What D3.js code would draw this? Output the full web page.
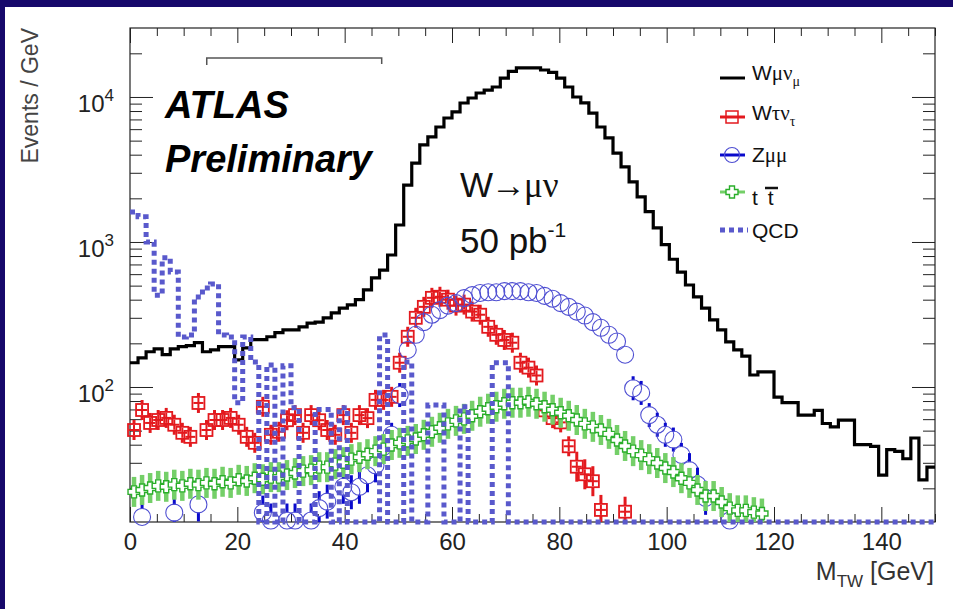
<!DOCTYPE html>
<html>
<head>
<meta charset="utf-8">
<script src="https://cdn.jsdelivr.net/npm/d3@7"></script>
<style>
  body { margin: 0; background: #ffffff; }
  svg { display: block; }
  text { font-family: "Liberation Sans", Arial, sans-serif; }
</style>
</head>
<body>
<script>
// M_TW histogram: 100 bins of 1.5 GeV between 0 and 150 GeV
const binWidth = 1.5;
const binLow = d3.range(100).map(i => i * binWidth);

// W -> mu nu (events / GeV)
const wmunu = [
  147, 159, 175, 183, 167, 183, 190, 193, 202, 175,
  180, 190, 190, 154, 186, 212, 212, 222, 237, 248,
  248, 260, 276, 280, 300, 324, 350, 368, 400, 467,
  565, 640, 813, 1310, 2470, 3500, 4670, 5300, 6210, 7160,
  7890, 9090, 9840, 10650, 11160, 11720, 13500, 15000, 15850, 15850,
  15850, 15350, 14800, 13500, 11720, 10000, 9100, 7750, 6210, 5220,
  4100, 3300, 2600, 2050, 1620, 1250, 960, 760, 620, 505,
  418, 350, 290, 248, 205, 180, 163, 121, 127, 127,
  85, 78, 78, 64, 64, 69, 56, 53, 59, 59,
  40, 40, 39, 24.7, 37, 36, 32, 44.5, 22.9, 28
];

// W -> tau nu
const wtaunu = [
  50.5, 69.4, 56.5, 59.2, 61.2, 54.9, 48.3, 45.3, 77.6, 50.5,
  59.2, 59.2, 61.2, 54.9, 45.3, 41.2, 73, 46.8, 49.1, 59,
  64, 48.3, 64, 59, 50.5, 46.8, 64, 48.3, 64, 61,
  81.5, 81.5, 85.5, 147, 222, 300, 357, 412, 419, 400,
  364, 370, 331, 315, 260, 229, 211, 202, 147, 136,
  120, 69, 61, 57, 39, 28.2, 25, 22.4, 14.2, null,
  null, 13.8, null, null, null, null, null, null, null, null,
  null, null, null, null, null, null, null, null, null, null,
  null, null, null, null, null, null, null, null, null, null,
  null, null, null, null, null, null, null, null, null, null
];

// Z -> mu mu
const zmumu = [
  null, 12.7, null, null, null, 13.6, null, null, 15.5, null,
  null, null, null, null, null, null, 13.6, 12, null, 12,
  12, null, 12, 14.6, 16.2, null, 20.5, 18.8, 20.5, 24.6,
  28.8, 38.6, 46.8, 88, 180, 229, 280, 315, 339, 364,
  379, 410, 430, 445, 450, 450, 458, 458, 458, 450,
  445, 425, 406, 379, 357, 331, 311, 280, 256, 229,
  206, 167, 98, 91, 64, 54.9, 46.8, 43.4, 34, 26.7,
  21.2, 17.2, null, null, 12, null, null, null, null, null,
  null, null, null, null, null, null, null, null, null, null,
  null, null, null, null, null, null, null, null, null, null
];

// t tbar
const ttbar = [
  18.9, 19.5, 20.1, 20.8, 20.5, 21.2, 20.8, 21.5, 21.2, 21.8,
  21.5, 22.2, 21.8, 22.9, 22.5, 23.5, 23.1, 23.9, 23.9, 24.7,
  25.5, 26.3, 26.7, 28, 28, 29.4, 30.3, 31.8, 32.8, 34.4,
  36.1, 37.3, 39.8, 41.2, 42.5, 43.8, 46.8, 49.1, 52.3, 55.7,
  58.4, 60.3, 63.3, 67.5, 70.8, 73.1, 76.6, 77.9, 77.9, 79.1,
  76.6, 73.1, 69.7, 66.4, 63.3, 59.2, 55.7, 53.1, 50.5, 47.5,
  43.1, 39.2, 36.1, 33.9, 31.8, 29.9, 27.6, 25.9, 23.5, 21.8,
  19.5, 17.7, 17.7, 16.1, 14.6, 14.1, 14.1, 13.7, 13.4, null,
  null, null, null, null, null, null, null, null, null, null,
  null, null, null, null, null, null, null, null, null, null
];

// QCD (0 = empty bin)
const qcd = [
  1610, 1490, 1000, 430, 780, 620, 221, 228, 418, 482,
  513, 228, 221, 78, 221, 149, 0, 142, 0, 140,
  72, 0, 0, 70, 70, 0, 72, 0, 0, 0,
  0, 228, 0, 0, 149, 0, 0, 75, 75, 0,
  0, 73, 0, 0, 0, 147, 147, 0, 0, 0,
  0, 0, 0, 0, 0, 0, 0, 0, 0, 0,
  0, 0, 0, 0, 0, 0, 0, 0, 0, 0,
  0, 0, 0, 0, 0, 0, 0, 0, 0, 0,
  0, 0, 0, 0, 0, 0, 0, 0, 0, 0,
  0, 0, 0, 0, 0, 0, 0, 0, 0, 0
];

const xMajor = [0, 20, 40, 60, 80, 100, 120, 140];
const yDecades = [100, 1000, 10000];
const yExponents = ["2", "3", "4"];

const W = 953, H = 609;
const red = "#e3191e", blueC = "#4f4fd2", blueE = "#0a0acc", greenM = "#2aae2a", greenE = "#74cf68", qcdCol = "#5959cc";

const svg = d3.select("body").append("svg").attr("width", W).attr("height", H);
svg.append("rect").attr("width", W).attr("height", H).attr("fill", "#17096b");
svg.append("rect").attr("x", 5).attr("y", 7).attr("width", W - 5).attr("height", H - 7).attr("fill", "#ffffff");

const x = d3.scaleLinear().domain([0, 150]).range([130, 935]);
const y = d3.scaleLog().domain([11.72, 29900]).range([522, 28]);
const yBottom = y.range()[0];

// axes (ROOT style, ticks inside the frame)
const xMinor = d3.range(0, 151, 5).filter(v => v % 20 !== 0);
const yMinor = [];
[10, 100, 1000, 10000].forEach(d => d3.range(2, 10).forEach(k => {
  const v = d * k;
  if (v > y.domain()[0] && v < y.domain()[1]) yMinor.push(v);
}));

function styleAxis(g) {
  g.select(".domain").remove();
  g.selectAll("line").attr("stroke", "#222");
  g.attr("font-family", "Liberation Sans, Arial, sans-serif");
}

const gxB = svg.append("g").attr("transform", "translate(0,522)");
gxB.call(d3.axisBottom(x).tickValues(xMajor).tickSize(-15).tickPadding(11).tickFormat(d3.format("d")))
  .call(styleAxis);
gxB.selectAll("text").attr("font-size", 24).attr("fill", "#222");
gxB.append("g").call(d3.axisBottom(x).tickValues(xMinor).tickSize(-8).tickFormat("")).call(styleAxis);

const gxT = svg.append("g").attr("transform", "translate(0,28)");
gxT.call(d3.axisTop(x).tickValues(xMajor).tickSize(-15).tickFormat("")).call(styleAxis);
gxT.append("g").call(d3.axisTop(x).tickValues(xMinor).tickSize(-8).tickFormat("")).call(styleAxis);

const gyL = svg.append("g").attr("transform", "translate(130,0)");
gyL.call(d3.axisLeft(y).tickValues(yDecades).tickSize(-23).tickFormat("")).call(styleAxis);
gyL.append("g").call(d3.axisLeft(y).tickValues(yMinor).tickSize(-12).tickFormat("")).call(styleAxis);

const gyR = svg.append("g").attr("transform", "translate(935,0)");
gyR.call(d3.axisRight(y).tickValues(yDecades).tickSize(-23).tickFormat("")).call(styleAxis);
gyR.append("g").call(d3.axisRight(y).tickValues(yMinor).tickSize(-12).tickFormat("")).call(styleAxis);

svg.append("rect").attr("x", 130).attr("y", 28).attr("width", 805).attr("height", 494)
  .attr("fill", "none").attr("stroke", "#222").attr("stroke-width", 1.2);

// y tick labels 10^n
yDecades.forEach((d, i) => {
  const t = svg.append("text").attr("x", 114).attr("y", y(d) + 15)
    .attr("text-anchor", "end").attr("font-size", 24).attr("fill", "#222");
  t.append("tspan").text("10");
  t.append("tspan").attr("dy", -11).attr("font-size", 17).text(yExponents[i]);
});

// axis titles
svg.append("text").attr("transform", "translate(38,28) rotate(-90)")
  .attr("text-anchor", "end").attr("font-size", 23).attr("fill", "#444").text("Events / GeV");
const xt = svg.append("text").attr("x", 934).attr("y", 580).attr("text-anchor", "end")
  .attr("font-size", 25).attr("fill", "#333");
xt.append("tspan").text("M");
xt.append("tspan").attr("dy", 7).attr("font-size", 17).text("TW");
xt.append("tspan").attr("dy", -7).text(" [GeV]");

// bracket at the top of the frame
const bracket = [14.3, 46.9], bracketY = 18600;
svg.append("path")
  .attr("d", `M${x(bracket[0])},${y(bracketY) + 7}V${y(bracketY)}H${x(bracket[1])}V${y(bracketY) + 6}`)
  .attr("fill", "none").attr("stroke", "#555").attr("stroke-width", 1.5);

// histogram helper
function histPoints(vals) {
  const pts = [];
  vals.forEach((v, i) => {
    const yy = v > 0 ? y(v) : yBottom;
    pts.push([x(binLow[i]), yy], [x(binLow[i] + binWidth), yy]);
  });
  return pts;
}
const line = d3.line();

// vertical error bar drawn outside the marker only
function errBar(g, cx, cy, gap, len, col, w) {
  g.append("line").attr("x1", cx).attr("x2", cx).attr("y1", cy - gap - len).attr("y2", cy - gap)
    .attr("stroke", col).attr("stroke-width", w);
  if (cy + gap < yBottom) {
    g.append("line").attr("x1", cx).attr("x2", cx).attr("y1", cy + gap).attr("y2", Math.min(cy + gap + len, yBottom))
      .attr("stroke", col).attr("stroke-width", w);
  }
}

// W -> mu nu
svg.append("path").attr("d", line(histPoints(wmunu)))
  .attr("fill", "none").attr("stroke", "#000").attr("stroke-width", 3.2).attr("stroke-linejoin", "miter");

const binCenter = i => x(binLow[i] + binWidth / 2);

// W -> tau nu : open squares with error bars
const gRed = svg.append("g");
wtaunu.forEach((v, i) => {
  if (v == null) return;
  const cx = binCenter(i), cy = y(v);
  errBar(gRed, cx, cy, 6, v < 30 ? 9 : 4, red, 3);
  gRed.append("line").attr("x1", cx - 5).attr("x2", cx + 5).attr("y1", cy).attr("y2", cy)
    .attr("stroke", red).attr("stroke-width", 2);
  gRed.append("line").attr("x1", cx).attr("x2", cx).attr("y1", cy - 5).attr("y2", cy + 5)
    .attr("stroke", red).attr("stroke-width", 2);
  gRed.append("rect").attr("x", cx - 6).attr("y", cy - 6).attr("width", 12).attr("height", 12)
    .attr("fill", "none").attr("stroke", red).attr("stroke-width", 1.8);
});

// Z -> mu mu : open circles with error bars
const gBlue = svg.append("g");
zmumu.forEach((v, i) => {
  if (v == null) return;
  const cx = binCenter(i), cy = y(v);
  if (v < 120) errBar(gBlue, cx, cy, 8, v < 30 ? 9 : 4, blueE, 3);
  gBlue.append("circle").attr("cx", cx).attr("cy", cy).attr("r", 8.5)
    .attr("fill", "none").attr("stroke", blueC).attr("stroke-width", 1.1);
});

// t tbar : open crosses with wide error bars
function crossPath(cx, cy, s, a) {
  return `M${cx - a},${cy - s}H${cx + a}V${cy - a}H${cx + s}V${cy + a}H${cx + a}V${cy + s}` +
         `H${cx - a}V${cy + a}H${cx - s}V${cy - a}H${cx - a}Z`;
}
const gGreen = svg.append("g");
ttbar.forEach((v, i) => {
  if (v == null) return;
  const cx = binCenter(i), cy = y(v);
  errBar(gGreen, cx, cy, 6, 9, greenE, 4.5);
  gGreen.append("path").attr("d", crossPath(cx, cy, 6, 2.5))
    .attr("fill", "#ffffff").attr("stroke", greenM).attr("stroke-width", 1.4);
});

// QCD : dotted histogram
svg.append("path").attr("d", line(histPoints(qcd)))
  .attr("fill", "none").attr("stroke", qcdCol).attr("stroke-width", 5).attr("stroke-dasharray", "5,4");

// labels
svg.append("text").attr("x", 165).attr("y", 118).attr("font-size", 38)
  .attr("font-weight", "bold").attr("font-style", "italic").attr("fill", "#000").text("ATLAS");
svg.append("text").attr("x", 165).attr("y", 172).attr("font-size", 38)
  .attr("font-weight", "bold").attr("font-style", "italic").attr("fill", "#000").text("Preliminary");

const t1 = svg.append("text").attr("x", 460).attr("y", 197).attr("font-size", 35).attr("fill", "#111");
t1.append("tspan").text("W");
t1.append("tspan").attr("dx", -2).text("\u2192");
t1.append("tspan").attr("dx", -2).attr("font-family", "Liberation Serif, serif").text("\u03bc\u03bd");
const t2 = svg.append("text").attr("x", 460).attr("y", 253).attr("font-size", 35).attr("fill", "#111");
t2.append("tspan").text("50 pb");
t2.append("tspan").attr("dy", -16).attr("font-size", 21).text("-1");

// legend
const legX = 720, legTx = 752;
const lg = svg.append("g");
function legText(yb, parts) {
  const t = lg.append("text").attr("x", legTx).attr("y", yb).attr("font-size", 21).attr("fill", "#111");
  parts.forEach(p => {
    const s = t.append("tspan").text(p.t);
    if (p.serif) s.attr("font-family", "Liberation Serif, serif");
    if (p.sub) s.attr("font-size", 14).attr("dy", 6);
  });
  return t;
}
lg.append("line").attr("x1", legX).attr("x2", legX + 25).attr("y1", 78).attr("y2", 78)
  .attr("stroke", "#000").attr("stroke-width", 3);
legText(80, [{t: "W"}, {t: "\u03bc\u03bd", serif: true}, {t: "\u03bc", serif: true, sub: true}]);

lg.append("line").attr("x1", legX).attr("x2", legX + 25).attr("y1", 117).attr("y2", 117)
  .attr("stroke", red).attr("stroke-width", 3);
lg.append("rect").attr("x", 726).attr("y", 111).attr("width", 12).attr("height", 12)
  .attr("fill", "none").attr("stroke", red).attr("stroke-width", 1.5);
legText(120, [{t: "W"}, {t: "\u03c4\u03bd", serif: true}, {t: "\u03c4", serif: true, sub: true}]);

lg.append("line").attr("x1", legX).attr("x2", legX + 25).attr("y1", 155).attr("y2", 155)
  .attr("stroke", blueE).attr("stroke-width", 3);
lg.append("circle").attr("cx", 732).attr("cy", 155).attr("r", 7.5)
  .attr("fill", "none").attr("stroke", blueC).attr("stroke-width", 1.2);
legText(162, [{t: "Z"}, {t: "\u03bc\u03bc", serif: true}]);

lg.append("line").attr("x1", legX).attr("x2", legX + 25).attr("y1", 192).attr("y2", 192)
  .attr("stroke", greenE).attr("stroke-width", 3);
lg.append("path").attr("d", crossPath(732, 192, 6, 2.5))
  .attr("fill", "#fff").attr("stroke", greenM).attr("stroke-width", 1.4);
const ttTxt = lg.append("text").attr("x", legTx).attr("y", 205).attr("font-size", 21).attr("fill", "#111");
ttTxt.append("tspan").text("t ");
ttTxt.append("tspan").attr("dx", 4).text("t");
lg.append("line").attr("x1", 765).attr("x2", 778).attr("y1", 188).attr("y2", 188)
  .attr("stroke", "#111").attr("stroke-width", 2.5);

lg.append("line").attr("x1", legX).attr("x2", legX + 28).attr("y1", 230).attr("y2", 230)
  .attr("stroke", qcdCol).attr("stroke-width", 5).attr("stroke-dasharray", "5,4");
legText(238, [{t: "QCD"}]);
</script>
</body>
</html>
